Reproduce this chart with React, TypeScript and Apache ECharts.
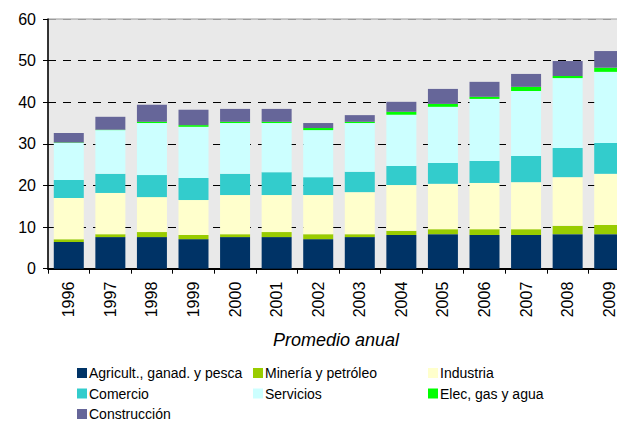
import React, { useEffect, useRef } from "react";
import * as echarts from "echarts";

const years = ["1996", "1997", "1998", "1999", "2000", "2001", "2002", "2003", "2004", "2005", "2006", "2007", "2008", "2009"];
const yTicks = [0, 10, 20, 30, 40, 50, 60];

const agricultura = [6.4, 7.6, 7.6, 7.1, 7.6, 7.6, 7.1, 7.6, 8.1, 8.3, 8.1, 8.1, 8.3, 8.3];
const mineria = [0.7, 0.7, 1.2, 1.0, 0.7, 1.2, 1.2, 0.7, 1.0, 1.2, 1.4, 1.4, 2.0, 2.2];
const industria = [9.9, 9.9, 8.4, 8.4, 9.4, 8.9, 9.4, 10.1, 11.0, 10.9, 11.1, 11.3, 11.7, 12.3];
const comercio = [4.3, 4.6, 5.3, 5.3, 5.1, 5.5, 4.3, 4.9, 4.6, 5.0, 5.3, 6.3, 7.0, 7.4];
const servicios = [8.9, 10.5, 12.5, 12.3, 12.2, 11.8, 11.3, 11.7, 12.3, 13.5, 14.9, 15.6, 16.8, 17.1];
const elecGasAgua = [0.1, 0.1, 0.3, 0.4, 0.3, 0.3, 0.5, 0.3, 0.7, 0.7, 0.5, 1.0, 0.5, 1.0];
const construccion = [2.3, 3.1, 4.1, 3.7, 3.1, 3.1, 1.2, 1.6, 2.4, 3.6, 3.6, 3.1, 3.6, 4.0];

const seriesNames = [
  "Agricult., ganad. y pesca",
  "Minería y petróleo",
  "Industria",
  "Comercio",
  "Servicios",
  "Elec, gas y agua",
  "Construcción",
];
const seriesData = [agricultura, mineria, industria, comercio, servicios, elecGasAgua, construccion];
const seriesColors = ["#003366", "#99CC00", "#FFFFCC", "#33CCCC", "#CCFFFF", "#00FF00", "#666699"];

const FONT = "'Liberation Sans', Arial, sans-serif";

// legend placement: column/row per series
const legendCol = [0, 1, 2, 0, 1, 2, 0];
const legendRow = [0, 0, 0, 1, 1, 1, 2];
const colX = [77, 253, 428];
const rowY = [366, 386.5, 407];

export default function App() {
  const ref = useRef<HTMLDivElement>(null);
  useEffect(() => {
    if (!ref.current) return;
    const chart = echarts.init(ref.current, null, { renderer: "svg" });
    const legends = seriesNames.map((name, i) => ({
      data: [name],
      left: colX[legendCol[i]],
      top: rowY[legendRow[i]],
      padding: 0,
      itemWidth: 10,
      itemHeight: 10,
      icon: "rect",
      selectedMode: false,
      textStyle: { fontFamily: FONT, fontSize: 14, color: "#000", padding: [0, 0, 0, -3] },
    }));
    chart.setOption({
      animation: false,
      backgroundColor: "#fff",
      grid: {
        left: 48,
        top: 19,
        width: 582,
        height: 249.7,
        show: true,
        backgroundColor: "#E9E9E9",
        borderColor: "#9a9a9a",
        borderWidth: 1,
      },
      legend: legends,
      graphic: [
        {
          type: "text",
          x: 336,
          y: 340,
          style: {
            text: "Promedio anual",
            fontFamily: FONT,
            fontSize: 18,
            fontStyle: "italic",
            fill: "#000",
            textAlign: "center",
            textVerticalAlign: "middle",
          },
        },
      ],
      xAxis: {
        type: "category",
        data: years,
        axisLine: { show: true, lineStyle: { color: "#000", width: 2 } },
        axisTick: { show: true, length: 5, lineStyle: { color: "#000" } },
        axisLabel: { rotate: 90, margin: 13, fontFamily: FONT, fontSize: 16, color: "#000" },
        splitLine: { show: false },
      },
      yAxis: {
        type: "value",
        min: yTicks[0],
        max: yTicks[yTicks.length - 1],
        interval: 10,
        axisLine: { show: true, lineStyle: { color: "#000", width: 1.5 } },
        axisTick: { show: true, length: 5, lineStyle: { color: "#000" } },
        axisLabel: { margin: 12, fontFamily: FONT, fontSize: 16, color: "#000" },
        splitLine: {
          show: true,
          lineStyle: { color: ["#000", "#000", "#000", "#000", "#000", "#000", "#9a9a9a"], type: [8, 7], width: 1 },
        },
      },
      series: seriesNames.map((name, i) => ({
        name,
        type: "bar",
        stack: "total",
        data: seriesData[i],
        barWidth: 30,
        itemStyle: { color: seriesColors[i] },
      })),
    });
    return () => chart.dispose();
  }, []);
  return (
    <div style={{ position: "fixed", left: 0, top: 0, width: 617, height: 421, overflow: "hidden" }}>
      <div ref={ref} style={{ width: 640, height: 421 }} />
    </div>
  );
}
